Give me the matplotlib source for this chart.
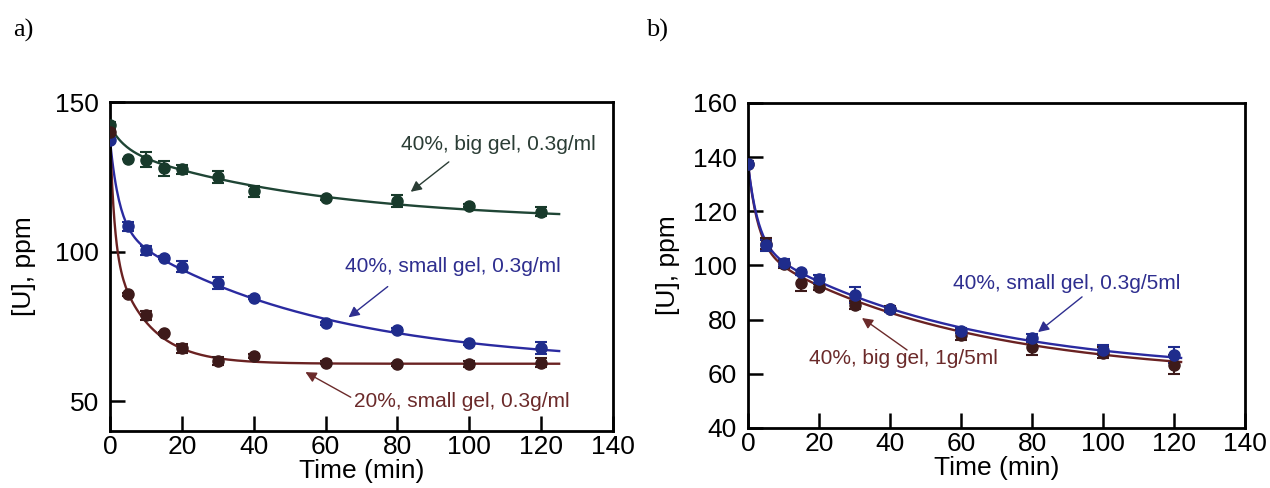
import numpy as np
import matplotlib
matplotlib.use("Agg")
import matplotlib.pyplot as plt

plt.rcParams['font.family'] = ['Liberation Sans', 'DejaVu Sans']

# ---------------- data ----------------
time_min = [0, 5, 10, 15, 20, 30, 40, 60, 80, 100, 120]

# panel a
a_big_040 = [142.3, 131.0, 130.7, 127.9, 127.6, 124.9, 120.1, 117.9, 116.8, 115.3, 113.4]
a_big_040_err = [1.0, 0.0, 2.5, 2.5, 1.5, 2.0, 2.0, 0.8, 2.0, 0.5, 1.5]
a_small_040 = [137.3, 108.4, 100.4, 97.9, 94.9, 89.6, 84.6, 76.0, 73.8, 69.3, 67.6]
a_small_040_err = [0.5, 1.5, 1.5, 0.5, 1.8, 2.0, 0.5, 0.5, 0.5, 0.5, 2.0]
a_small_020 = [140.1, 85.7, 78.7, 72.7, 67.6, 63.4, 65.1, 62.9, 62.3, 62.3, 62.9]
a_small_020_err = [0.5, 0.5, 1.5, 0.5, 1.5, 1.2, 0.8, 0.5, 0.5, 1.0, 1.5]

# panel b
b_small = [137.5, 107.5, 101.0, 97.5, 94.9, 89.1, 83.8, 75.9, 73.1, 68.8, 67.0]
b_small_err = [1.0, 2.0, 1.5, 1.0, 1.5, 3.0, 1.0, 1.0, 1.5, 2.0, 3.0]
b_big = [137.5, 108.0, 100.5, 93.4, 92.0, 85.4, 84.0, 74.3, 70.0, 67.8, 63.3]
b_big_err = [1.0, 2.0, 1.5, 3.0, 1.0, 1.5, 1.0, 2.0, 3.0, 2.0, 3.5]

# fitted curves: y_inf, A1, tau1, A2, tau2  (bi-exponential decay)
fit_a_big_040 = [110.0, 7.2, 4.0, 24.8, 55.0]
fit_a_small_040 = [62.0, 29.3, 2.6, 46.0, 55.0]
fit_a_small_020 = [62.5, 39.1, 1.2, 38.4, 9.9]
fit_b_small = [60.0, 29.5, 2.8, 48.0, 58.0]
fit_b_big = [58.5, 31.0, 2.8, 48.0, 58.0]

labels_a = ["40%, big gel, 0.3g/ml", "40%, small gel, 0.3g/ml", "20%, small gel, 0.3g/ml"]
labels_b = ["40%, small gel, 0.3g/5ml", "40%, big gel, 1g/5ml"]

# ---------------- style ----------------
c_green_line, c_green_mk, c_green_tx = '#1f4535', '#183a2b', '#2b3d35'
c_blue_line, c_blue_mk, c_blue_tx = '#2a2aa0', '#1f2c8c', '#2e2e8f'
c_red_line, c_red_mk, c_red_tx = '#6a2222', '#3d1a1a', '#6b2a2a'


def curve(p, tmax):
    t = np.linspace(0, tmax, 400)
    y = p[0] + p[1] * np.exp(-t / p[2]) + p[3] * np.exp(-t / p[4])
    return t, y


def series(ax, y, err, p, tmax, lc, mc):
    t, yc = curve(p, tmax)
    ax.plot(t, yc, color=lc, lw=1.7, zorder=2)
    ax.errorbar(time_min, y, yerr=err, fmt='o', ms=8, color=mc, ecolor=mc,
                elinewidth=1.5, capsize=4.5, capthick=1.5, zorder=3)


def style_axes(ax, ylpad):
    for s in ax.spines.values():
        s.set_linewidth(2.0)
    ax.tick_params(direction='in', length=11, width=1.8, labelsize=19,
                   top=False, right=False)
    ax.tick_params(axis='x', pad=3)
    ax.tick_params(axis='y', pad=8)
    ax.set_xlabel('Time (min)', fontsize=19, labelpad=0)
    ax.set_ylabel('[U], ppm', fontsize=19, labelpad=ylpad)


def label(ax, text, pos, tail, head, color):
    ax.text(pos[0], pos[1], text, fontsize=15, ha='center', va='center', color=color)
    ax.annotate('', xy=head, xytext=tail,
                arrowprops=dict(arrowstyle='-|>', color=color, lw=1.0,
                                shrinkA=0, shrinkB=0, mutation_scale=16))


fig = plt.figure(figsize=(12.7, 4.88), dpi=100)

# ---------------- panel a ----------------
ax1 = fig.add_axes([0.0866, 0.1168, 0.3961, 0.674])
series(ax1, a_big_040, a_big_040_err, fit_a_big_040, 125, c_green_line, c_green_mk)
series(ax1, a_small_040, a_small_040_err, fit_a_small_040, 125, c_blue_line, c_blue_mk)
series(ax1, a_small_020, a_small_020_err, fit_a_small_020, 125, c_red_line, c_red_mk)
ax1.set_xlim(0, 140)
ax1.set_ylim(40, 150)
ax1.set_xticks(np.arange(0, 141, 20))
ax1.set_yticks([50, 100, 150])
style_axes(ax1, 14)

label(ax1, labels_a[0], (108.0, 135.7), (94.3, 130.0), (83.7, 120.0), c_green_tx)
label(ax1, labels_a[1], (95.4, 95.0), (77.3, 88.3), (66.4, 78.0), c_blue_tx)
label(ax1, labels_a[2], (98.0, 50.0), (67.0, 51.3), (54.4, 59.7), c_red_tx)

# ---------------- panel b ----------------
ax2 = fig.add_axes([0.589, 0.123, 0.3913, 0.666])
series(ax2, b_big, b_big_err, fit_b_big, 122, c_red_line, c_red_mk)
series(ax2, b_small, b_small_err, fit_b_small, 122, c_blue_line, c_blue_mk)
ax2.set_xlim(0, 140)
ax2.set_ylim(40, 160)
ax2.set_xticks(np.arange(0, 141, 20))
ax2.set_yticks(np.arange(40, 161, 20))
style_axes(ax2, 9)

label(ax2, labels_b[0], (89.9, 93.5), (94.1, 88.4), (81.7, 75.4), c_blue_tx)
label(ax2, labels_b[1], (43.9, 65.8), (44.8, 68.8), (32.1, 80.6), c_red_tx)

# panel letters
fig.text(0.010, 0.938, 'a)', fontsize=19, family=['Liberation Serif'], va='center')
fig.text(0.509, 0.938, 'b)', fontsize=19, family=['Liberation Serif'], va='center')

fig.savefig('out.png', dpi=100)
